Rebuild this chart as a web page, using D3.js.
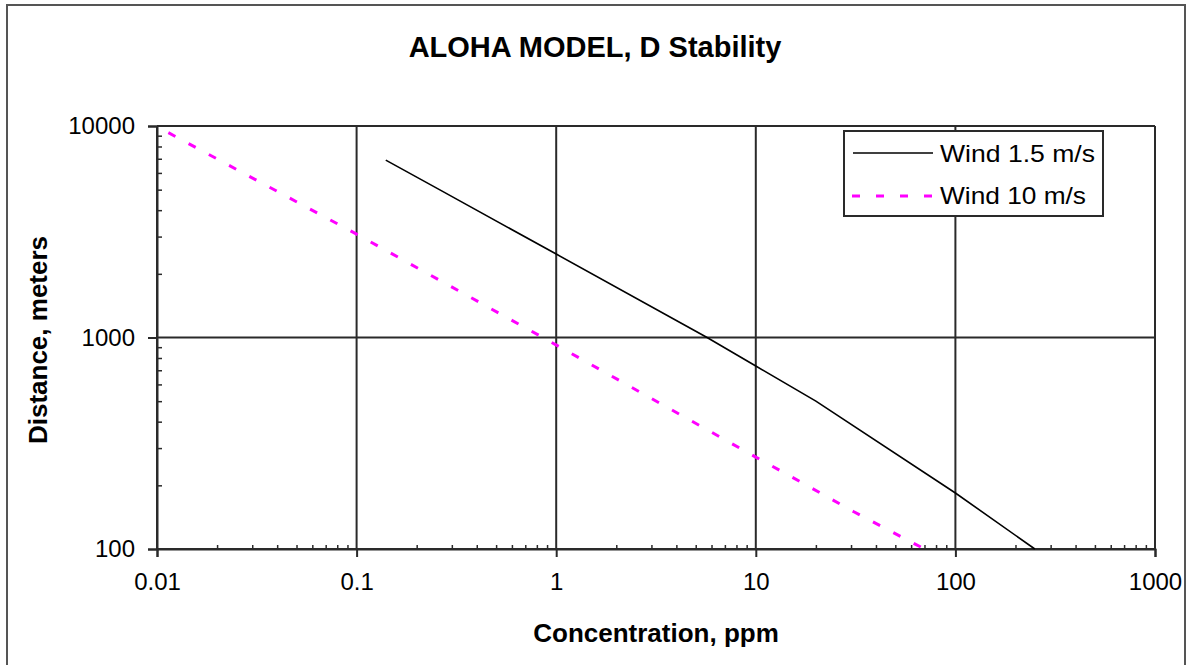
<!DOCTYPE html>
<html>
<head>
<meta charset="utf-8">
<script src="https://cdn.jsdelivr.net/npm/d3@7"></script>
<style>
  html, body { margin: 0; padding: 0; background: #fff; }
  svg { display: block; }
  text { font-family: "Liberation Sans", Arial, sans-serif; fill: #000; }
</style>
</head>
<body>
<svg id="chart" width="1191" height="665"></svg>
<script>
// ---- data ----
const seriesNames = ["Wind 1.5 m/s", "Wind 10 m/s"];
const wind15Conc = [0.14, 0.26, 1, 5.7, 10, 20, 100, 250];
const wind15Dist = [6900, 5000, 2480, 1000, 733, 500, 184, 100];
const wind10Conc = [0.0114, 0.1, 0.857, 10, 18, 31, 70];
const wind10Dist = [9300, 3080, 1000, 272, 200, 150, 100];
const xTickValues = [0.01, 0.1, 1, 10, 100, 1000];
const xTickLabels = ["0.01", "0.1", "1", "10", "100", "1000"];
const yTickValues = [100, 1000, 10000];
const yTickLabels = ["100", "1000", "10000"];
const titleText = "ALOHA MODEL, D Stability";
const xTitle = "Concentration, ppm";
const yTitle = "Distance, meters";

// ---- layout ----
const svg = d3.select("#chart");
const plot = { left: 157, right: 1155, top: 126, bottom: 549 };
const gridColor = "#2a2a2a";

// outer chart border
svg.append("rect").attr("x", 7).attr("y", 5).attr("width", 1178).attr("height", 700)
  .attr("fill", "none").attr("stroke", "#555").attr("stroke-width", 2);

const x = d3.scaleLog().domain([0.01, 1000]).range([plot.left, plot.right]);
const y = d3.scaleLog().domain([100, 10000]).range([plot.bottom, plot.top]);

// minor tick values
const xMinor = [];
for (let e = -2; e < 3; e++) for (let k = 2; k <= 9; k++) xMinor.push(k * Math.pow(10, e));
const yMinor = [];
for (let e = 2; e < 4; e++) for (let k = 2; k <= 9; k++) yMinor.push(k * Math.pow(10, e));

// gridlines (major)
const grid = svg.append("g");
grid.selectAll("line.vx").data(xTickValues).join("line")
  .attr("x1", d => x(d)).attr("x2", d => x(d))
  .attr("y1", plot.top).attr("y2", plot.bottom)
  .attr("stroke", gridColor).attr("stroke-width", 2);
grid.selectAll("line.hy").data(yTickValues).join("line")
  .attr("x1", plot.left).attr("x2", plot.right)
  .attr("y1", d => y(d)).attr("y2", d => y(d))
  .attr("stroke", gridColor).attr("stroke-width", 2);

// x axis (bottom): major ticks outward, minor ticks inward
const xAxisG = svg.append("g").attr("transform", `translate(0,${plot.bottom})`);
xAxisG.call(d3.axisBottom(x).tickValues(xTickValues).tickFormat((d, i) => xTickLabels[i]).tickSize(8).tickPadding(16));
xAxisG.select(".domain").attr("stroke", gridColor).attr("stroke-width", 2);
xAxisG.selectAll(".tick line").attr("stroke", gridColor).attr("stroke-width", 2);
xAxisG.selectAll(".tick text").attr("font-size", 24).attr("fill", "#222")
  .style("font-family", "'Liberation Sans', Arial, sans-serif");
const xMinorG = svg.append("g").attr("transform", `translate(0,${plot.bottom})`);
xMinorG.call(d3.axisTop(x).tickValues(xMinor).tickFormat("").tickSize(4));
xMinorG.select(".domain").remove();
xMinorG.selectAll(".tick line").attr("stroke", gridColor).attr("stroke-width", 1.5);

// y axis (left)
const yAxisG = svg.append("g").attr("transform", `translate(${plot.left},0)`);
yAxisG.call(d3.axisLeft(y).tickValues(yTickValues).tickFormat((d, i) => yTickLabels[i]).tickSize(9).tickPadding(13));
yAxisG.select(".domain").attr("stroke", gridColor).attr("stroke-width", 2);
yAxisG.selectAll(".tick line").attr("stroke", gridColor).attr("stroke-width", 2);
yAxisG.selectAll(".tick text").attr("font-size", 24).attr("fill", "#222")
  .style("font-family", "'Liberation Sans', Arial, sans-serif");
const yMinorG = svg.append("g").attr("transform", `translate(${plot.left},0)`);
yMinorG.call(d3.axisRight(y).tickValues(yMinor).tickFormat("").tickSize(5));
yMinorG.select(".domain").remove();
yMinorG.selectAll(".tick line").attr("stroke", gridColor).attr("stroke-width", 1.5);

// plot frame top & right
svg.append("line").attr("x1", plot.left).attr("x2", plot.right).attr("y1", plot.top).attr("y2", plot.top)
  .attr("stroke", gridColor).attr("stroke-width", 2);
svg.append("line").attr("x1", plot.right).attr("x2", plot.right).attr("y1", plot.top).attr("y2", plot.bottom)
  .attr("stroke", gridColor).attr("stroke-width", 2);

// series
const line = d3.line().x(d => x(d[0])).y(d => y(d[1]));
const s1 = wind15Conc.map((c, i) => [c, wind15Dist[i]]);
const s2 = wind10Conc.map((c, i) => [c, wind10Dist[i]]);
svg.append("path").attr("d", line(s1)).attr("fill", "none")
  .attr("stroke", "#000").attr("stroke-width", 1.6);
svg.append("path").attr("d", line(s2)).attr("fill", "none")
  .attr("stroke", "#ff00ff").attr("stroke-width", 3).attr("stroke-dasharray", "8,15");

// legend
const lg = svg.append("g");
lg.append("rect").attr("x", 844).attr("y", 131).attr("width", 259).attr("height", 85)
  .attr("fill", "#fff").attr("stroke", gridColor).attr("stroke-width", 2);
lg.append("line").attr("x1", 853).attr("x2", 933).attr("y1", 153).attr("y2", 153)
  .attr("stroke", "#000").attr("stroke-width", 1.6);
lg.append("line").attr("x1", 852).attr("x2", 933).attr("y1", 196).attr("y2", 196)
  .attr("stroke", "#ff00ff").attr("stroke-width", 3).attr("stroke-dasharray", "8,16");
lg.append("text").attr("x", 940).attr("y", 162).attr("font-size", 24).attr("fill", "#222")
  .attr("textLength", 155).attr("lengthAdjust", "spacingAndGlyphs").text(seriesNames[0]);
lg.append("text").attr("x", 940).attr("y", 204).attr("font-size", 24).attr("fill", "#222")
  .attr("textLength", 146).attr("lengthAdjust", "spacingAndGlyphs").text(seriesNames[1]);

// titles
svg.append("text").attr("x", 595).attr("y", 57).attr("text-anchor", "middle")
  .attr("font-size", 29).attr("font-weight", "bold").text(titleText);
svg.append("text").attr("x", 656).attr("y", 642).attr("text-anchor", "middle")
  .attr("font-size", 26).attr("font-weight", "bold").text(xTitle);
svg.append("text").attr("transform", "translate(47,340) rotate(-90)").attr("text-anchor", "middle")
  .attr("font-size", 26).attr("font-weight", "bold").text(yTitle);
</script>
</body>
</html>
